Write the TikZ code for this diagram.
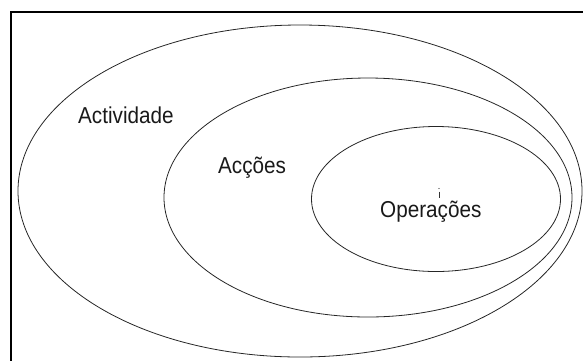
\documentclass[tikz,border=0pt]{standalone}
\usepackage{fontspec}
\setmainfont{Liberation Sans}
\begin{document}
\begin{tikzpicture}[x=1pt,y=-1pt,
  ring/.style={draw=black!85,line width=0.8pt},
  label/.style={inner sep=0pt,anchor=base west,font=\fontsize{23}{26}\selectfont,xscale=0.9,text=black!90}]
\useasboundingbox (0,0) rectangle (583,360);
% frame (open to the right and bottom)
\draw[line width=2pt] (11,361) -- (11,12) -- (584,12);
% nested levels
\coordinate (cA) at (300,191);
\coordinate (cB) at (368,197.5);
\coordinate (cC) at (436,199);
\draw[ring] (cA) ellipse [x radius=282pt, y radius=166pt];
\draw[ring] (cB) ellipse [x radius=204pt, y radius=119.5pt];
\draw[ring] (cC) ellipse [x radius=124.5pt, y radius=72.5pt];
% labels
\node[label] (act) at (78,123) {Actividade};
\node[label] (acc) at (218,173) {Acções};
\node[label] (ope) at (380,217) {Operações};
% small mark above the cedilla
\fill[black!80] (439,188.5) circle (0.6pt);
\draw[black!80,line width=0.6pt] (439,191.5) -- (439,198);
\end{tikzpicture}
\end{document}
